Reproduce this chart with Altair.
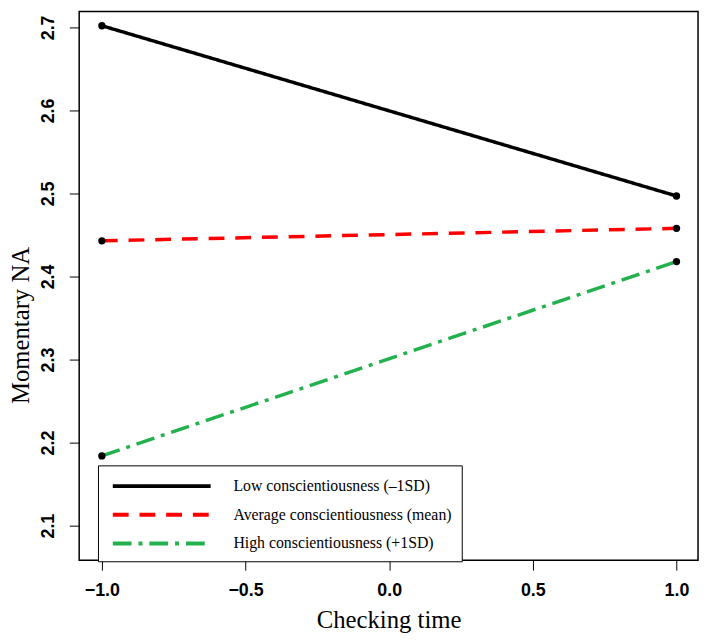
import altair as alt
import pandas as pd

checking_time = [-1.0, 1.0]
series_names = [
    "Low conscientiousness (–1SD)",
    "Average conscientiousness (mean)",
    "High conscientiousness (+1SD)",
]
low_values = [2.702, 2.497]
avg_values = [2.443, 2.458]
high_values = [2.184, 2.418]
series_colors = ["#000000", "#ff0000", "#22b14c"]
series_dashes = [[1, 0], [16, 11], [19, 7, 4, 7]]
x_ticks = [-1.0, -0.5, 0.0, 0.5, 1.0]
y_ticks = [2.1, 2.2, 2.3, 2.4, 2.5, 2.6, 2.7]

rows = []
for name, vals in zip(series_names, [low_values, avg_values, high_values]):
    for x, y in zip(checking_time, vals):
        rows.append({"Checking time": x, "Momentary NA": y, "series": name})
df = pd.DataFrame(rows)

x_enc = alt.X(
    "Checking time:Q",
    scale=alt.Scale(domain=[-1.079, 1.075], nice=False, zero=False),
    axis=alt.Axis(
        values=x_ticks, format=".1f", title="Checking time", domain=False,
        grid=False, tickSize=10, tickColor="black", tickWidth=1,
        labelFont="Liberation Sans", labelFontWeight="bold", labelFontSize=18,
        labelColor="black", labelPadding=12,
        titleFont="Liberation Serif", titleFontWeight="normal", titleFontSize=25,
        titleColor="black", titlePadding=8,
    ),
)
y_enc = alt.Y(
    "Momentary NA:Q",
    scale=alt.Scale(domain=[2.0583, 2.719], nice=False, zero=False),
    axis=alt.Axis(
        values=y_ticks, format=".1f", title="Momentary NA", domain=False,
        grid=False, tickSize=10, tickColor="black", tickWidth=1,
        labelFont="Liberation Sans", labelFontWeight="bold", labelFontSize=18,
        labelColor="black", labelAngle=270, labelAlign="center",
        labelBaseline="bottom", labelPadding=12,
        titleFont="Liberation Serif", titleFontWeight="normal", titleFontSize=25,
        titleColor="black", titlePadding=6, titleY=317,
    ),
)

legend_cfg = dict(
    title=None, orient="none", legendX=19, legendY=459,
    symbolType="M-5.5,0L5.5,0", symbolSize=324, symbolStrokeWidth=4,
    symbolOffset=43.5, labelOffset=61.5, labelLimit=400,
    labelFont="Liberation Serif", labelFontSize=16, labelColor="black",
    rowPadding=10, padding=10,
    strokeColor="black", fillColor="white",
)

lines = alt.Chart(df).mark_line(strokeWidth=3.5).encode(
    x=x_enc,
    y=y_enc,
    color=alt.Color(
        "series:N",
        scale=alt.Scale(domain=series_names, range=series_colors),
        legend=alt.Legend(**legend_cfg),
        sort=series_names,
    ),
    strokeDash=alt.StrokeDash(
        "series:N",
        scale=alt.Scale(domain=series_names, range=series_dashes),
        legend=alt.Legend(**legend_cfg),
        sort=series_names,
    ),
)

points = alt.Chart(df).mark_circle(size=55, color="black", opacity=1).encode(
    x=x_enc, y=y_enc
)

chart = (
    alt.layer(lines, points)
    .properties(
        width=626, height=555,
        autosize=alt.AutoSizeParams(type="none"),
        padding={"left": 72, "top": 0, "right": 3, "bottom": 77},
    )
    .configure(background="white")
    .configure_view(stroke="black", strokeWidth=1.5)
)

chart.save("out.html", embed_options={"renderer": "svg", "actions": False})
